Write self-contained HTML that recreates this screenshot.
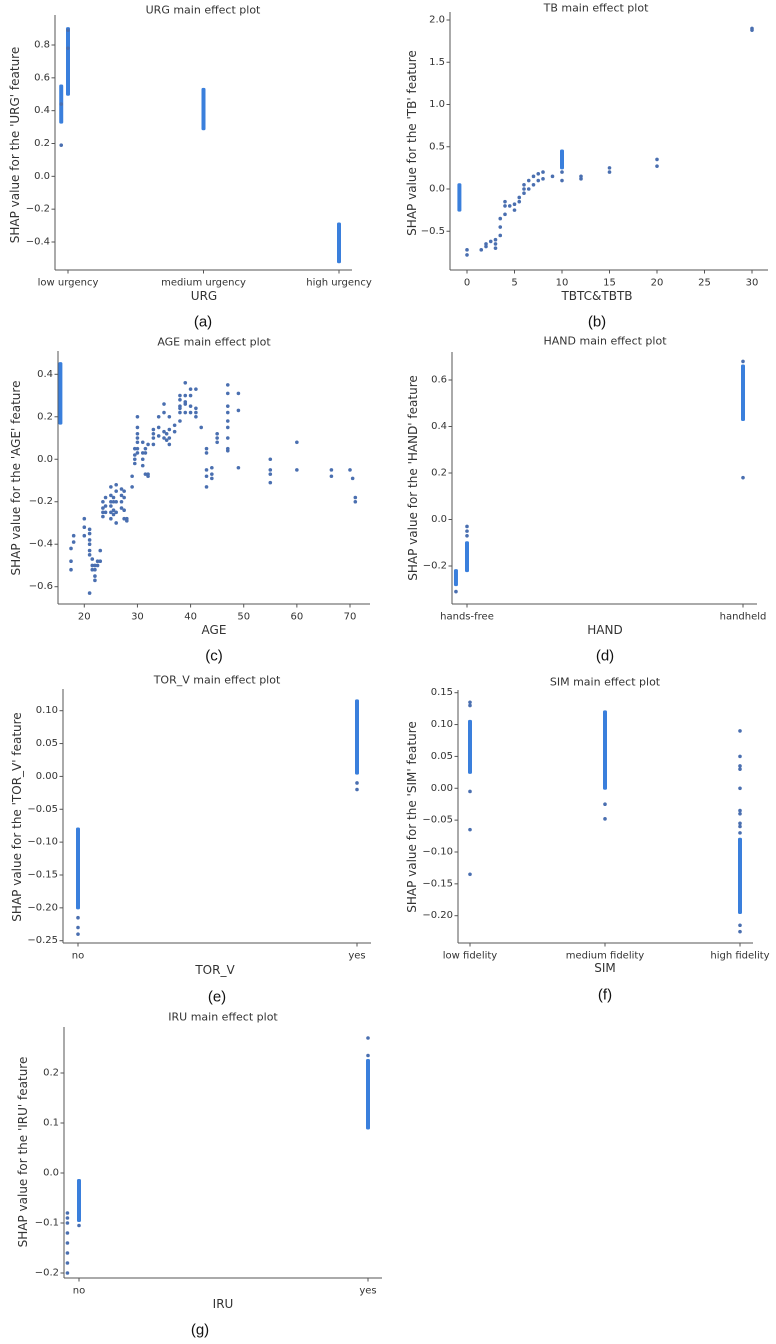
<!DOCTYPE html>
<html><head><meta charset="utf-8"><title>SHAP main effect plots</title>
<style>
html,body{margin:0;padding:0;background:#fff;}
svg{display:block;font-family:"DejaVu Sans","Liberation Sans",sans-serif;}
.tk{font-size:10px;fill:#333;}
.ttl{font-size:11px;fill:#333;}
.axl{font-size:12px;fill:#333;}
.cap{font-size:15px;fill:#111;font-family:"Liberation Sans",sans-serif;}
</style></head>
<body>
<svg id="chart" width="776" height="1344" viewBox="0 0 776 1344" xmlns="http://www.w3.org/2000/svg"></svg>
<script>
// ---------- data ----------
// (a) URG
const urgCats = ["low urgency","medium urgency","high urgency"];
const urgStripX  = [0, -0.05, 1, 2];
const urgStripLo = [0.50, 0.33, 0.29, -0.52];
const urgStripHi = [0.90, 0.55, 0.53, -0.29];
const urgPtX = [0, 0, -0.05, -0.05];
const urgPtY = [0.89, 0.78, 0.19, 0.44];
// (b) TB
const tbStripX  = [-0.8, 10];
const tbStripLo = [-0.25, 0.25];
const tbStripHi = [0.05, 0.45];
const tbPtX = [0,0,1.5,2,2,2.5,3,3,3,3.5,3.5,3.5,4,4,4,4.5,5,5,5.5,5.5,6,6,6,6.5,6.5,7,7,7.5,7.5,8,8,9,10,10,12,12,15,15,20,20,30,30];
const tbPtY = [-0.72,-0.78,-0.72,-0.65,-0.68,-0.62,-0.6,-0.65,-0.7,-0.55,-0.45,-0.35,-0.3,-0.2,-0.15,-0.2,-0.25,-0.18,-0.15,-0.1,-0.05,0,0.05,0,0.1,0.05,0.15,0.1,0.18,0.12,0.2,0.15,0.1,0.2,0.15,0.12,0.25,0.2,0.35,0.27,1.9,1.88];
// (c) AGE
const ageStripX  = [15.5];
const ageStripLo = [0.17];
const ageStripHi = [0.45];
const agePtX = [17.5,17.5,17.5,18,18,20,20,20,21,21,21,21,21,21,21,21.5,21.5,21.5,22,22,22,22,22.5,22.5,23,23,23.5,23.5,23.5,23.5,24,24,24,25,25,25,25,25,25,25.5,25.5,25.5,25.5,26,26,26,26,26,27,27,27,27,27.5,27.5,27.5,27.5,28,28,29,29,29.5,29.5,29.5,29.5,30,30,30,30,30,30,30,31,31,31,31,31.5,31.5,31.5,32,32,32,33,33,33,33,34,34,34,35,35,35,35,35.5,35.5,36,36,36,36,37,37,38,38,38,38,38,38,39,39,39,39,39,40,40,40,40,41,41,41,41,42,43,43,43,43,43,44,44,44,45,45,45,47,47,47,47,47,47,47,47,47,49,49,49,55,55,55,55,60,60,66.5,66.5,70,70.5,71,71];
const agePtY = [-0.52,-0.48,-0.42,-0.36,-0.39,-0.28,-0.32,-0.36,-0.33,-0.35,-0.38,-0.4,-0.43,-0.45,-0.63,-0.47,-0.5,-0.52,-0.5,-0.55,-0.57,-0.52,-0.48,-0.5,-0.43,-0.48,-0.2,-0.23,-0.25,-0.27,-0.18,-0.22,-0.25,-0.13,-0.17,-0.2,-0.22,-0.25,-0.28,-0.18,-0.2,-0.24,-0.26,-0.12,-0.15,-0.2,-0.25,-0.3,-0.14,-0.17,-0.2,-0.23,-0.15,-0.18,-0.24,-0.28,-0.29,-0.28,-0.13,-0.08,-0.02,0.02,0.05,0.0,0.1,0.15,0.2,0.12,0.05,0.03,0.08,-0.03,0.03,0.08,0.0,-0.07,0.05,0.03,-0.08,0.07,-0.07,0.07,0.1,0.14,0.12,0.15,0.2,0.11,0.22,0.26,0.13,0.1,0.12,0.09,0.07,0.1,0.14,0.2,0.16,0.13,0.18,0.22,0.25,0.28,0.3,0.24,0.36,0.3,0.27,0.22,0.26,0.33,0.3,0.25,0.22,0.33,0.24,0.2,0.22,0.15,0.05,0.03,-0.05,-0.08,-0.13,-0.04,-0.07,-0.09,0.08,0.1,0.12,0.35,0.31,0.25,0.22,0.18,0.15,0.1,0.05,0.04,0.31,0.23,-0.04,0.0,-0.05,-0.07,-0.11,0.08,-0.05,-0.05,-0.08,-0.05,-0.09,-0.18,-0.2];
// (d) HAND
const handCats = ["hands-free","handheld"];
const handStripX  = [-0.04, 0, 1];
const handStripLo = [-0.28, -0.22, 0.43];
const handStripHi = [-0.22, -0.10, 0.66];
const handPtX = [-0.04, 0, 0, 0, 1, 1];
const handPtY = [-0.31, -0.03, -0.05, -0.07, 0.68, 0.18];
// (e) TOR_V
const torCats = ["no","yes"];
const torStripX  = [0, 1];
const torStripLo = [-0.20, 0.005];
const torStripHi = [-0.08, 0.115];
const torPtX = [0, 0, 0, 1, 1];
const torPtY = [-0.215, -0.23, -0.24, -0.01, -0.02];
// (f) SIM
const simCats = ["low fidelity","medium fidelity","high fidelity"];
const simStripX  = [0, 1, 2];
const simStripLo = [0.025, 0.0, -0.195];
const simStripHi = [0.105, 0.12, -0.08];
const simPtX = [0,0,0,0,0,1,1,2,2,2,2,2,2,2,2,2,2,2,2];
const simPtY = [0.13,0.135,-0.005,-0.065,-0.135,-0.025,-0.048,-0.035,-0.04,-0.055,-0.06,-0.07,0.0,0.03,0.035,0.05,0.09,-0.215,-0.225];
// (g) IRU
const iruCats = ["no","yes"];
const iruStripX  = [0, 1];
const iruStripLo = [-0.095, 0.09];
const iruStripHi = [-0.015, 0.225];
const iruPtX = [0, -0.04,-0.04,-0.04,-0.04,-0.04,-0.04,-0.04,-0.04, 1, 1];
const iruPtY = [-0.105, -0.08,-0.09,-0.1,-0.12,-0.14,-0.16,-0.18,-0.2, 0.235, 0.27];

// ---------- drawing ----------
const NS = "http://www.w3.org/2000/svg";
const svg = document.getElementById("chart");
function mk(tag, attrs, parent){
  const e = document.createElementNS(NS, tag);
  for (const k in attrs) e.setAttribute(k, attrs[k]);
  (parent || svg).appendChild(e);
  return e;
}
function lin(v0,p0,v1,p1){ return v => p0 + (v - v0) * (p1 - p0) / (v1 - v0); }
function fmt(v, d){ const s = Math.abs(v).toFixed(d); return (v < -1e-9 ? "\u2212" : "") + s; }

function panel(c){
  const g = mk("g", {});
  
  
  const x = c.x, y = c.y;
  // spines
  const ls = mk("line", {x1:c.left, y1:c.top, x2:c.left, y2:c.bottom, stroke:"#555", "stroke-width":1}, g);
  
  
  const bs = mk("line", {x1:c.left, y1:c.bottom, x2:c.right, y2:c.bottom, stroke:"#555", "stroke-width":1}, g);
  
  
  // y ticks
  c.yticks.forEach(v => {
    const py = y(v);
    mk("line", {x1:c.left-3.5, y1:py, x2:c.left, y2:py, stroke:"#555"}, g);
    const t = mk("text", {x:c.left-5, y:py, "text-anchor":"end", "dominant-baseline":"central", class:"tk"}, g);
    t.textContent = fmt(v, c.ydec);
    
    
  });
  // x ticks
  c.xticks.forEach((v, i) => {
    const px = x(v);
    mk("line", {x1:px, y1:c.bottom, x2:px, y2:c.bottom+3.5, stroke:"#555"}, g);
    const t = mk("text", {x:px, y:c.bottom+13, "text-anchor":"middle", "dominant-baseline":"central", class:"tk"}, g);
    t.textContent = c.xlabels ? c.xlabels[i] : String(v);
    
    
  });
  // strips (dense stacks of points)
  c.sx.forEach((v, i) => {
    const px = x(v), y1 = y(c.shi[i]), y2 = y(c.slo[i]);
    const r = mk("rect", {x:px-2, y:Math.min(y1,y2)-1.5, width:4, height:Math.abs(y2-y1)+3, rx:1.5, fill:"#3a7fdc"}, g);
    
    
  });
  // points
  c.px.forEach((v, i) => {
    const d = mk("circle", {cx:x(v), cy:y(c.py[i]), r:1.8, fill:"#4a6fb0"}, g);
    
    
  });
  // title
  const tt = mk("text", {x:c.tx, y:c.ty, "text-anchor":"middle", "dominant-baseline":"central", class:"ttl"}, g);
  tt.textContent = c.title;
  
  
  // x label
  const xl = mk("text", {x:c.xlx, y:c.xly, "text-anchor":"middle", "dominant-baseline":"central", class:"axl"}, g);
  xl.textContent = c.xlabel;
  
  
  // y label
  const yl = mk("text", {x:0, y:0, "text-anchor":"middle", "dominant-baseline":"central", class:"axl", transform:"translate("+c.ylx+","+c.yly+") rotate(-90)"}, g);
  yl.textContent = "SHAP value for the '" + c.feat + "' feature";
  
  
  // caption
  const cp = mk("text", {x:c.cx, y:c.cy, "text-anchor":"middle", "dominant-baseline":"central", class:"cap"}, g);
  cp.textContent = c.cap;
  
  
}
function rng(a,b,s){ const r=[]; for(let v=a; v<=b+1e-9; v+=s) r.push(Math.round(v*1000)/1000); return r; }

panel({name:"urg", left:55, bottom:270, top:15, right:352, x:lin(0,68,2,339), y:lin(0.8,45,-0.4,242),
  yticks:rng(-0.4,0.8,0.2), ydec:1, xticks:[0,1,2], xlabels:urgCats,
  sx:urgStripX, slo:urgStripLo, shi:urgStripHi, px:urgPtX, py:urgPtY,
  title:"URG main effect plot", tx:203, ty:10, xlabel:"URG", xlx:204, xly:296, feat:"URG", ylx:15, yly:145, cap:"(a)", cx:203, cy:322});
panel({name:"tb", left:450, bottom:270, top:12, right:768, x:lin(0,467,30,752), y:lin(0,189,2,20),
  yticks:rng(-0.5,2.0,0.5), ydec:1, xticks:[0,5,10,15,20,25,30], xlabels:null,
  sx:tbStripX, slo:tbStripLo, shi:tbStripHi, px:tbPtX, py:tbPtY,
  title:"TB main effect plot", tx:596, ty:8, xlabel:"TBTC&TBTB", xlx:597, xly:296, feat:"TB", ylx:412, yly:143, cap:"(b)", cx:597, cy:322});
panel({name:"age", left:58, bottom:604, top:351, right:370, x:lin(20,84.3,70,350), y:lin(0.4,374.3,-0.6,586.7),
  yticks:rng(-0.6,0.4,0.2), ydec:1, xticks:[20,30,40,50,60,70], xlabels:null,
  sx:ageStripX, slo:ageStripLo, shi:ageStripHi, px:agePtX, py:agePtY,
  title:"AGE main effect plot", tx:214, ty:342, xlabel:"AGE", xlx:214, xly:630, feat:"AGE", ylx:16, yly:478, cap:"(c)", cx:214, cy:656});
panel({name:"hand", left:452, bottom:604, top:352, right:757, x:lin(0,467,1,743), y:lin(0.6,380,-0.2,566),
  yticks:rng(-0.2,0.6,0.2), ydec:1, xticks:[0,1], xlabels:handCats,
  sx:handStripX, slo:handStripLo, shi:handStripHi, px:handPtX, py:handPtY,
  title:"HAND main effect plot", tx:605, ty:341, xlabel:"HAND", xlx:605, xly:630, feat:"HAND", ylx:413, yly:478, cap:"(d)", cx:605, cy:656});
panel({name:"tor-v", left:63, bottom:943, top:689, right:371, x:lin(0,78,1,357), y:lin(0.1,710.7,-0.25,940.7),
  yticks:rng(-0.25,0.1,0.05), ydec:2, xticks:[0,1], xlabels:torCats,
  sx:torStripX, slo:torStripLo, shi:torStripHi, px:torPtX, py:torPtY,
  title:"TOR_V main effect plot", tx:217, ty:680, xlabel:"TOR_V", xlx:215, xly:970, feat:"TOR_V", ylx:17, yly:817, cap:"(e)", cx:217, cy:997});
panel({name:"sim", left:458, bottom:943, top:690, right:753, x:lin(0,470,2,740), y:lin(0.15,692.7,-0.2,915.7),
  yticks:rng(-0.2,0.15,0.05), ydec:2, xticks:[0,1,2], xlabels:simCats,
  sx:simStripX, slo:simStripLo, shi:simStripHi, px:simPtX, py:simPtY,
  title:"SIM main effect plot", tx:605, ty:682, xlabel:"SIM", xlx:605, xly:968, feat:"SIM", ylx:412, yly:817, cap:"(f)", cx:605, cy:995});
panel({name:"iru", left:64, bottom:1278, top:1027, right:382, x:lin(0,79,1,368), y:lin(0.2,1073,-0.2,1273),
  yticks:rng(-0.2,0.2,0.1), ydec:1, xticks:[0,1], xlabels:iruCats,
  sx:iruStripX, slo:iruStripLo, shi:iruStripHi, px:iruPtX, py:iruPtY,
  title:"IRU main effect plot", tx:223, ty:1017, xlabel:"IRU", xlx:223, xly:1304, feat:"IRU", ylx:23, yly:1152, cap:"(g)", cx:200, cy:1330});
</script>
</body></html>
